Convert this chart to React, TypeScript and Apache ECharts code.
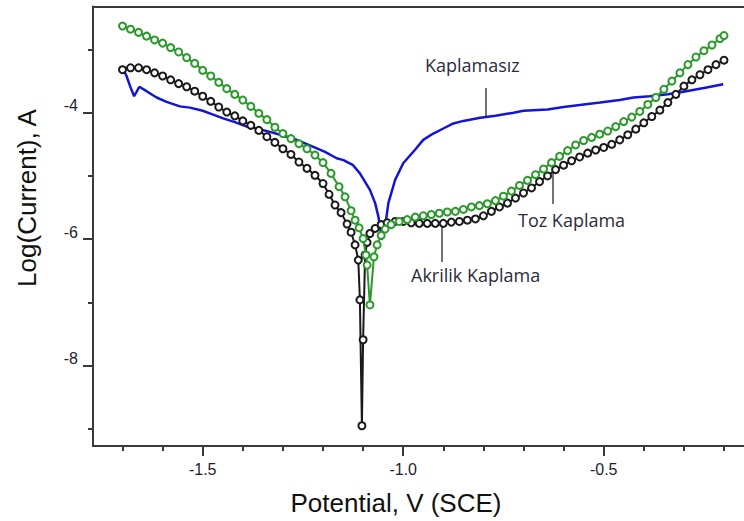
import React, { useEffect, useRef } from "react";
import * as echarts from "echarts";

// Axis ranges and ticks
const X_MIN = -1.7736;
const X_MAX = -0.1501;
const Y_MIN = -9.27;
const Y_MAX = -2.321;
const xMajorTicks = [-1.5, -1.0, -0.5];
const xMinorTicks = [-1.7, -1.6, -1.4, -1.3, -1.2, -1.1, -0.9, -0.8, -0.7, -0.6, -0.4, -0.3, -0.2];
const yMajorTicks = [-8, -6, -4];
const yMinorTicks = [-9, -7, -5, -3];

const xTitle = "Potential, V (SCE)";
const yTitle = "Log(Current), A";
const seriesNames = ["Kaplamasız", "Toz Kaplama", "Akrilik Kaplama"];

// Kaplamasız (uncoated) — [potential V, log current]
const kaplamasiz: [number, number][] = [
  [-1.702, -3.26], [-1.69, -3.42], [-1.68, -3.6], [-1.671, -3.74], [-1.658, -3.59],
  [-1.64, -3.66], [-1.615, -3.76], [-1.59, -3.83], [-1.557, -3.9], [-1.532, -3.92],
  [-1.5, -3.97], [-1.474, -4.03], [-1.449, -4.09], [-1.42, -4.15], [-1.39, -4.22],
  [-1.365, -4.25], [-1.335, -4.3], [-1.307, -4.35], [-1.27, -4.42], [-1.224, -4.54],
  [-1.195, -4.62], [-1.166, -4.72], [-1.149, -4.75], [-1.125, -4.83], [-1.108, -4.96],
  [-1.083, -5.22], [-1.07, -5.43], [-1.062, -5.64], [-1.058, -5.78], [-1.054, -6.01],
  [-1.045, -5.8], [-1.037, -5.43], [-1.02, -5.06], [-1.0, -4.8], [-0.971, -4.59],
  [-0.95, -4.43], [-0.925, -4.33], [-0.9, -4.25], [-0.875, -4.17], [-0.85, -4.13],
  [-0.808, -4.08], [-0.77, -4.05], [-0.725, -4.0], [-0.7, -3.97], [-0.64, -3.95],
  [-0.6, -3.91], [-0.56, -3.88], [-0.509, -3.84], [-0.46, -3.8], [-0.426, -3.76],
  [-0.385, -3.74], [-0.34, -3.71], [-0.301, -3.67], [-0.25, -3.61], [-0.202, -3.55],
];

// Toz Kaplama (powder coating)
const tozKaplama: [number, number][] = [
  [-1.7, -2.63], [-1.68, -2.68], [-1.66, -2.73], [-1.64, -2.79], [-1.62, -2.85],
  [-1.6, -2.9], [-1.58, -2.97], [-1.56, -3.04], [-1.54, -3.13], [-1.52, -3.22],
  [-1.5, -3.33], [-1.48, -3.42], [-1.46, -3.52], [-1.44, -3.62], [-1.42, -3.71],
  [-1.4, -3.8], [-1.38, -3.9], [-1.36, -4.01], [-1.34, -4.11], [-1.32, -4.23],
  [-1.3, -4.33], [-1.28, -4.41], [-1.26, -4.49], [-1.24, -4.57], [-1.22, -4.67],
  [-1.2, -4.79], [-1.18, -4.96], [-1.16, -5.17], [-1.145, -5.33], [-1.13, -5.55],
  [-1.12, -5.7], [-1.11, -5.82], [-1.1, -5.99], [-1.093, -6.25], [-1.09, -6.41],
  [-1.083, -7.04], [-1.073, -6.28], [-1.065, -6.09], [-1.055, -5.94], [-1.045, -5.84],
  [-1.03, -5.77], [-1.01, -5.72], [-0.99, -5.69], [-0.97, -5.65], [-0.95, -5.63],
  [-0.93, -5.61], [-0.91, -5.59], [-0.89, -5.57], [-0.87, -5.56], [-0.85, -5.53],
  [-0.83, -5.49], [-0.81, -5.47], [-0.79, -5.44], [-0.77, -5.39], [-0.75, -5.32],
  [-0.73, -5.24], [-0.71, -5.15], [-0.69, -5.07], [-0.67, -4.98], [-0.65, -4.89],
  [-0.63, -4.79], [-0.61, -4.69], [-0.59, -4.6], [-0.57, -4.51], [-0.55, -4.44],
  [-0.53, -4.39], [-0.51, -4.34], [-0.49, -4.29], [-0.47, -4.22], [-0.45, -4.14],
  [-0.43, -4.07], [-0.41, -3.98], [-0.39, -3.87], [-0.37, -3.76], [-0.35, -3.63],
  [-0.33, -3.5], [-0.31, -3.37], [-0.29, -3.24], [-0.27, -3.12], [-0.25, -3.02],
  [-0.23, -2.93], [-0.21, -2.83], [-0.2, -2.78],
];

// Akrilik Kaplama (acrylic coating)
const akrilikKaplama: [number, number][] = [
  [-1.7, -3.32], [-1.68, -3.29], [-1.66, -3.29], [-1.64, -3.32], [-1.62, -3.37],
  [-1.6, -3.42], [-1.58, -3.48], [-1.56, -3.54], [-1.54, -3.59], [-1.52, -3.66],
  [-1.5, -3.74], [-1.48, -3.82], [-1.46, -3.91], [-1.44, -3.99], [-1.42, -4.05],
  [-1.4, -4.13], [-1.38, -4.2], [-1.36, -4.28], [-1.34, -4.38], [-1.32, -4.47],
  [-1.3, -4.57], [-1.28, -4.66], [-1.26, -4.78], [-1.24, -4.88], [-1.22, -4.99],
  [-1.2, -5.12], [-1.185, -5.29], [-1.17, -5.46], [-1.155, -5.58], [-1.14, -5.76],
  [-1.13, -5.89], [-1.12, -6.09], [-1.112, -6.33], [-1.108, -6.96], [-1.103, -8.95],
  [-1.1, -7.59], [-1.095, -6.25], [-1.09, -6.05], [-1.083, -5.91], [-1.07, -5.83],
  [-1.055, -5.77], [-1.04, -5.74], [-1.02, -5.72], [-1.0, -5.72], [-0.98, -5.74],
  [-0.96, -5.75], [-0.94, -5.75], [-0.92, -5.75], [-0.9, -5.75], [-0.88, -5.73],
  [-0.86, -5.72], [-0.84, -5.7], [-0.82, -5.68], [-0.8, -5.63], [-0.78, -5.56],
  [-0.76, -5.49], [-0.74, -5.43], [-0.72, -5.35], [-0.7, -5.27], [-0.68, -5.19],
  [-0.66, -5.09], [-0.64, -5.0], [-0.62, -4.9], [-0.6, -4.83], [-0.58, -4.76],
  [-0.56, -4.7], [-0.54, -4.64], [-0.52, -4.59], [-0.5, -4.55], [-0.48, -4.5],
  [-0.46, -4.43], [-0.44, -4.35], [-0.42, -4.26], [-0.4, -4.16], [-0.38, -4.06],
  [-0.36, -3.96], [-0.34, -3.84], [-0.32, -3.71], [-0.3, -3.58], [-0.28, -3.48],
  [-0.26, -3.4], [-0.24, -3.32], [-0.22, -3.24], [-0.2, -3.17],
];

const AXIS_COLOR = "#3a3a3a";
const LABEL_COLOR = "#1e1e2e";
const ANNOT_COLOR = "#2c2c3c";
const GREEN = "#2a9a2a";
const BLACK = "#1a1a1a";
const BLUE = "#1414d8";

export default function App() {
  const ref = useRef<HTMLDivElement>(null);

  useEffect(() => {
    if (!ref.current) return;
    const chart = echarts.init(ref.current, undefined, { renderer: "svg" });

    const tickLabelStyle = {
      color: LABEL_COLOR,
      fontFamily: "Liberation Sans, Arial, sans-serif",
      fontSize: 16,
    };

    chart.setOption({
      animation: false,
      backgroundColor: "#ffffff",
      grid: { left: 93, right: 0, top: 6.5, bottom: 75, containLabel: false },
      xAxis: [
        {
          type: "value",
          min: X_MIN,
          max: X_MAX,
          position: "bottom",
          axisLine: { show: true, onZero: false, lineStyle: { color: AXIS_COLOR, width: 2 } },
          axisTick: { show: true, inside: false, length: 10, customValues: xMajorTicks, lineStyle: { color: AXIS_COLOR, width: 2 } },
          axisLabel: {
            show: true,
            customValues: xMajorTicks,
            margin: 15,
            formatter: (v: number) => v.toFixed(1),
            ...tickLabelStyle,
          },
          splitLine: { show: false },
        },
        {
          type: "value",
          min: X_MIN,
          max: X_MAX,
          position: "bottom",
          axisLine: { show: false, onZero: false },
          axisTick: { show: true, inside: false, length: 5, customValues: xMinorTicks, lineStyle: { color: AXIS_COLOR, width: 2 } },
          axisLabel: { show: false },
          splitLine: { show: false },
        },
        {
          type: "value",
          min: X_MIN,
          max: X_MAX,
          position: "top",
          axisLine: { show: true, onZero: false, lineStyle: { color: AXIS_COLOR, width: 2 } },
          axisTick: { show: false },
          axisLabel: { show: false },
          splitLine: { show: false },
        },
      ],
      yAxis: [
        {
          type: "value",
          min: Y_MIN,
          max: Y_MAX,
          position: "left",
          axisLine: { show: true, onZero: false, lineStyle: { color: AXIS_COLOR, width: 2 } },
          axisTick: { show: true, inside: false, length: 10, customValues: yMajorTicks, lineStyle: { color: AXIS_COLOR, width: 2 } },
          axisLabel: {
            show: true,
            customValues: yMajorTicks,
            margin: 15,
            verticalAlign: "bottom",
            lineHeight: 14,
            formatter: (v: number) => String(v),
            ...tickLabelStyle,
          },
          splitLine: { show: false },
        },
        {
          type: "value",
          min: Y_MIN,
          max: Y_MAX,
          position: "left",
          axisLine: { show: false, onZero: false },
          axisTick: { show: true, inside: false, length: 5, customValues: yMinorTicks, lineStyle: { color: AXIS_COLOR, width: 2 } },
          axisLabel: { show: false },
          splitLine: { show: false },
        },
      ],
      series: [
        {
          name: seriesNames[0],
          type: "line",
          data: kaplamasiz,
          xAxisIndex: 0,
          yAxisIndex: 0,
          symbol: "none",
          lineStyle: { color: BLUE, width: 2.5 },
          z: 2,
        },
        {
          name: seriesNames[2],
          type: "line",
          data: akrilikKaplama,
          xAxisIndex: 0,
          yAxisIndex: 0,
          symbol: "emptyCircle",
          symbolSize: 7,
          showAllSymbol: true,
          itemStyle: { color: BLACK, borderWidth: 1.3 },
          lineStyle: { color: BLACK, width: 2 },
          z: 3,
        },
        {
          name: seriesNames[1],
          type: "line",
          data: tozKaplama,
          xAxisIndex: 0,
          yAxisIndex: 0,
          symbol: "emptyCircle",
          symbolSize: 7,
          showAllSymbol: true,
          itemStyle: { color: GREEN, borderWidth: 1.3 },
          lineStyle: { color: GREEN, width: 2 },
          z: 4,
        },
      ],
      graphic: [
        // Axis titles
        {
          type: "text",
          x: 396,
          y: 503,
          style: {
            text: xTitle,
            fill: "#111111",
            font: "26px Liberation Sans, Arial, sans-serif",
            textAlign: "center",
            textVerticalAlign: "middle",
          },
        },
        {
          type: "text",
          x: 27,
          y: 198,
          rotation: Math.PI / 2,
          style: {
            text: yTitle,
            fill: "#111111",
            font: "26px Liberation Sans, Arial, sans-serif",
            textAlign: "center",
            textVerticalAlign: "middle",
          },
        },
        // Annotation: Kaplamasız
        {
          type: "text",
          x: 425,
          y: 65,
          style: {
            text: seriesNames[0],
            fill: ANNOT_COLOR,
            font: "18px Open Sans, Noto Sans, sans-serif",
            textAlign: "left",
            textVerticalAlign: "middle",
          },
        },
        {
          type: "line",
          shape: { x1: 486, y1: 88, x2: 486, y2: 117 },
          style: { stroke: "#444444", lineWidth: 1.5 },
        },
        // Annotation: Toz Kaplama
        {
          type: "text",
          x: 518,
          y: 220,
          style: {
            text: seriesNames[1],
            fill: ANNOT_COLOR,
            font: "18px Open Sans, Noto Sans, sans-serif",
            textAlign: "left",
            textVerticalAlign: "middle",
          },
        },
        {
          type: "line",
          shape: { x1: 553, y1: 162, x2: 553, y2: 204 },
          style: { stroke: "#444444", lineWidth: 1.5 },
        },
        // Annotation: Akrilik Kaplama
        {
          type: "text",
          x: 411,
          y: 275,
          style: {
            text: seriesNames[2],
            fill: ANNOT_COLOR,
            font: "18px Open Sans, Noto Sans, sans-serif",
            textAlign: "left",
            textVerticalAlign: "middle",
          },
        },
        {
          type: "line",
          shape: { x1: 442, y1: 225, x2: 442, y2: 262 },
          style: { stroke: "#444444", lineWidth: 1.5 },
        },
      ],
    });

    return () => {
      chart.dispose();
    };
  }, []);

  return (
    <div
      ref={ref}
      style={{ position: "fixed", left: 0, top: 0, width: 744, height: 521, background: "#ffffff" }}
    />
  );
}
